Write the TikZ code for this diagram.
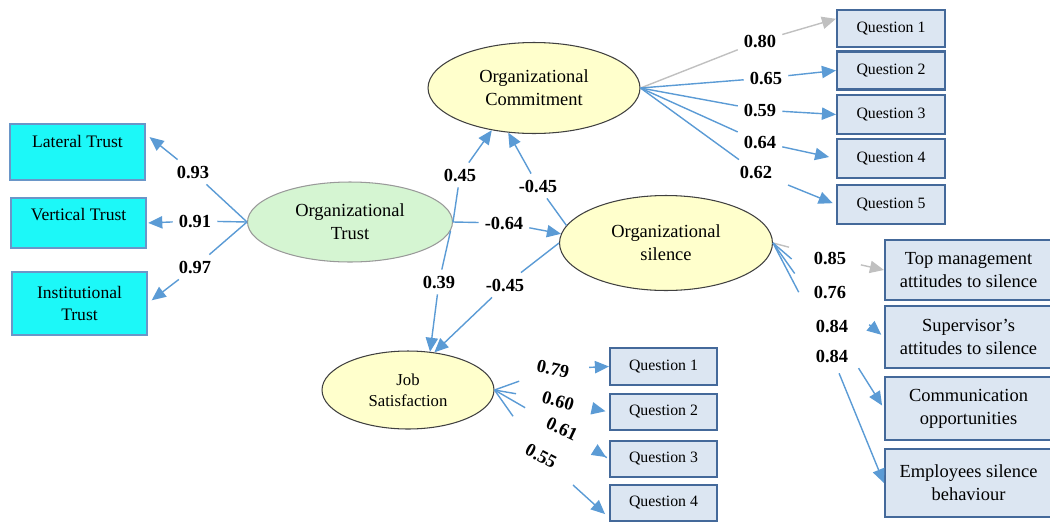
\documentclass[tikz,border=0pt]{standalone}
\usepackage{fontspec}
\setmainfont{Liberation Serif}
\usepackage{tikz}
\usetikzlibrary{arrows.meta,shapes.geometric}
\definecolor{PathBlue}{HTML}{5B9BD5}
\definecolor{FaintGray}{HTML}{C0C0C0}
\definecolor{TrustCyan}{HTML}{1CF8F8}
\definecolor{TrustEdge}{HTML}{6A96C8}
\definecolor{TrustGreen}{HTML}{D5F5D2}
\definecolor{LatentYellow}{HTML}{FFFFCC}
\definecolor{ItemFill}{HTML}{DCE6F2}
\definecolor{ItemEdge}{HTML}{44699A}

\begin{document}
\begin{tikzpicture}[x=0.02cm, y=-0.02cm, color=PathBlue, line width=0.8pt,
      every node/.append style={text=black},
      load/.style={-{Triangle[length=8pt,width=7pt]}},
      faint/.style={color=FaintGray}]
    \tikzstyle{latent} = [ellipse, align=center, inner sep=0pt, line width=0.6pt, font=\fontsize{10.5}{13}\selectfont]
    \tikzstyle{trust} = [rectangle, draw=TrustEdge, fill=TrustCyan, line width=0.6pt, align=center, minimum width=2.7cm, font=\fontsize{10}{12.5}\selectfont]
    \tikzstyle{item} = [rectangle, draw=ItemEdge, fill=ItemFill, line width=1.2pt, align=center, font=\fontsize{9}{11}\selectfont]
    \tikzstyle{bigitem} = [item, minimum width=3.34cm, font=\fontsize{10.5}{13}\selectfont]
    \tikzstyle{coef} = [font=\fontsize{10.5}{12}\selectfont\bfseries, inner sep=1.5pt, outer sep=2pt]
    \tikzstyle{tilted} = [coef, inner sep=0pt, outer sep=3pt]
    \useasboundingbox (0,0) rectangle (1050,521);

    \node [trust, minimum height=1.12cm, text depth=12pt] (LT) at (77.5,152) {Lateral Trust};
    \node [trust, minimum height=1.0cm, text depth=10pt] (VT) at (78.5,223) {Vertical Trust};
    \node [trust, minimum height=1.26cm] (IT) at (79.5,303.5) {Institutional\\Trust};

    \node [latent, draw=gray!80, fill=TrustGreen, minimum width=4.1cm, minimum height=1.6cm] (OT) at (350,222) {Organizational\\Trust};
    \node [latent, draw=black!75, fill=LatentYellow, minimum width=4.24cm, minimum height=1.82cm] (OC) at (534,88) {Organizational\\Commitment};
    \node [latent, draw=black!75, fill=LatentYellow, minimum width=4.26cm, minimum height=1.9cm] (OS) at (666,243) {Organizational\\silence};
    \node [latent, draw=black!75, fill=LatentYellow, minimum width=3.44cm, minimum height=1.56cm, font=\fontsize{9.5}{12}\selectfont] (JS) at (408,390) {Job\\Satisfaction};

    \node [item, minimum width=2.16cm, minimum height=0.74cm] (OQ1) at (891,28.5) {Question 1};
    \node [item, minimum width=2.16cm, minimum height=0.76cm] (OQ2) at (891,70.5) {Question 2};
    \node [item, minimum width=2.16cm, minimum height=0.78cm] (OQ3) at (891,114.5) {Question 3};
    \node [item, minimum width=2.16cm, minimum height=0.78cm] (OQ4) at (891,158.5) {Question 4};
    \node [item, minimum width=2.16cm, minimum height=0.78cm] (OQ5) at (891,204.5) {Question 5};

    \node [bigitem, minimum height=1.2cm] (TM) at (968.5,270) {Top management\\attitudes to silence};
    \node [bigitem, minimum height=1.24cm] (SV) at (968.5,337) {Supervisor’s\\attitudes to silence};
    \node [bigitem, minimum height=1.26cm] (CO) at (968.5,408.5) {Communication\\opportunities};
    \node [bigitem, minimum height=1.36cm] (EM) at (968.5,483) {Employees silence\\behaviour};

    \node [item, minimum width=2.14cm, minimum height=0.74cm] (JQ1) at (663.5,366.5) {Question 1};
    \node [item, minimum width=2.14cm, minimum height=0.72cm] (JQ2) at (663.5,412) {Question 2};
    \node [item, minimum width=2.14cm, minimum height=0.72cm] (JQ3) at (663.5,459) {Question 3};
    \node [item, minimum width=2.14cm, minimum height=0.72cm] (JQ4) at (663.5,503) {Question 4};

    \node [coef] (c93) at (193,172) {0.93};
    \node [coef] (c91) at (195,221) {0.91};
    \node [coef] (c97) at (195,267) {0.97};
    \node [coef] (c45a) at (460,175) {0.45};
    \node [coef] (c45b) at (538,186) {-0.45};
    \node [coef] (c64) at (504,223) {-0.64};
    \node [coef] (c39) at (439,282) {0.39};
    \node [coef] (c45c) at (505,285) {-0.45};

    \node [coef] (oc80) at (760,41) {0.80};
    \node [coef] (oc65) at (766,78) {0.65};
    \node [coef] (oc59) at (760,110) {0.59};
    \node [coef] (oc64) at (760,142) {0.64};
    \node [coef] (oc62) at (756,172) {0.62};

    \node [coef] (os85) at (830,258) {0.85};
    \node [coef] (os76) at (830,292) {0.76};
    \node [coef] (os84a) at (832,326) {0.84};
    \node [coef] (os84b) at (832,356) {0.84};

    \node [tilted, rotate=-12] (js79) at (553,369) {0.79};
    \node [tilted, rotate=-16] (js60) at (558,401) {0.60};
    \node [tilted, rotate=-25] (js61) at (562,429) {0.61};
    \node [tilted, rotate=-28] (js55) at (541,456) {0.55};

    \draw (OT.west) -- (c93);
    \draw [load, shorten >=3pt] (c93) -- (LT.15);
    \draw (OT.west) -- (c91);
    \draw [load, shorten >=1pt] (c91) -- (VT.east);
    \draw (OT.west) -- (c97);
    \draw [load, shorten >=3pt] (c97) -- (IT.east);

    \draw (OT.east) -- (c45a);
    \draw [load] (c45a) -- (OC.225);
    \draw (OS.170) -- (c45b);
    \draw [load] (c45b) -- (OC.240);
    \draw (OT.east) -- (c64);
    \draw [load] (c64) -- (OS.175);
    \draw (OT.-5) -- (c39);
    \draw [load] (c39) -- (JS.60);
    \draw (OS.west) -- (c45c);
    \draw [load] (c45c) -- (JS.55);

    \draw [faint] (OC.east) -- (oc80);
    \draw [faint, load] (oc80) -- (OQ1.170);
    \draw (OC.east) -- (oc65);
    \draw [load] (oc65) -- (OQ2.west);
    \draw (OC.east) -- (oc59);
    \draw [load] (oc59) -- (OQ3.west);
    \draw (OC.east) -- (oc64);
    \draw [load, shorten >=4pt] (oc64) -- (OQ4.west);
    \draw (OC.east) -- (oc62);
    \draw [load, shorten <=6pt, shorten >=2pt] (oc62) -- (OQ5.west);

    \draw [faint, shorten >=11pt] (OS.east) -- (os85);
    \draw [faint, load, shorten <=5pt] (os85) -- (TM.west);
    \draw [shorten >=18pt] (OS.east) -- (os76);
    \draw [load, shorten <=18pt, shorten >=2pt] (os76) -- (SV.west);
    \draw [shorten >=28pt] (OS.east) -- (os84a);
    \draw [load, shorten <=20pt, shorten >=2pt] (os84a) -- (CO.west);
    \draw [shorten >=33pt] (OS.east) -- (os84b);
    \draw [load, shorten <=3pt] (os84b) -- (EM.west);

    \draw [shorten >=8pt] (JS.east) -- (js79);
    \draw [load, shorten <=8pt] (js79) -- (JQ1.west);
    \draw [shorten >=12pt] (JS.east) -- (js60);
    \draw [load, shorten <=14pt, shorten >=2pt] (js60) -- (JQ2.west);
    \draw [shorten >=12pt] (JS.east) -- (js61);
    \draw [load, shorten <=18pt, shorten >=2pt] (js61) -- (JQ3.west);
    \draw [shorten >=14pt] (JS.east) -- (js55);
    \draw [load, shorten <=12pt, shorten >=3pt] (js55) -- (JQ4.195);
\end{tikzpicture}
\end{document}
